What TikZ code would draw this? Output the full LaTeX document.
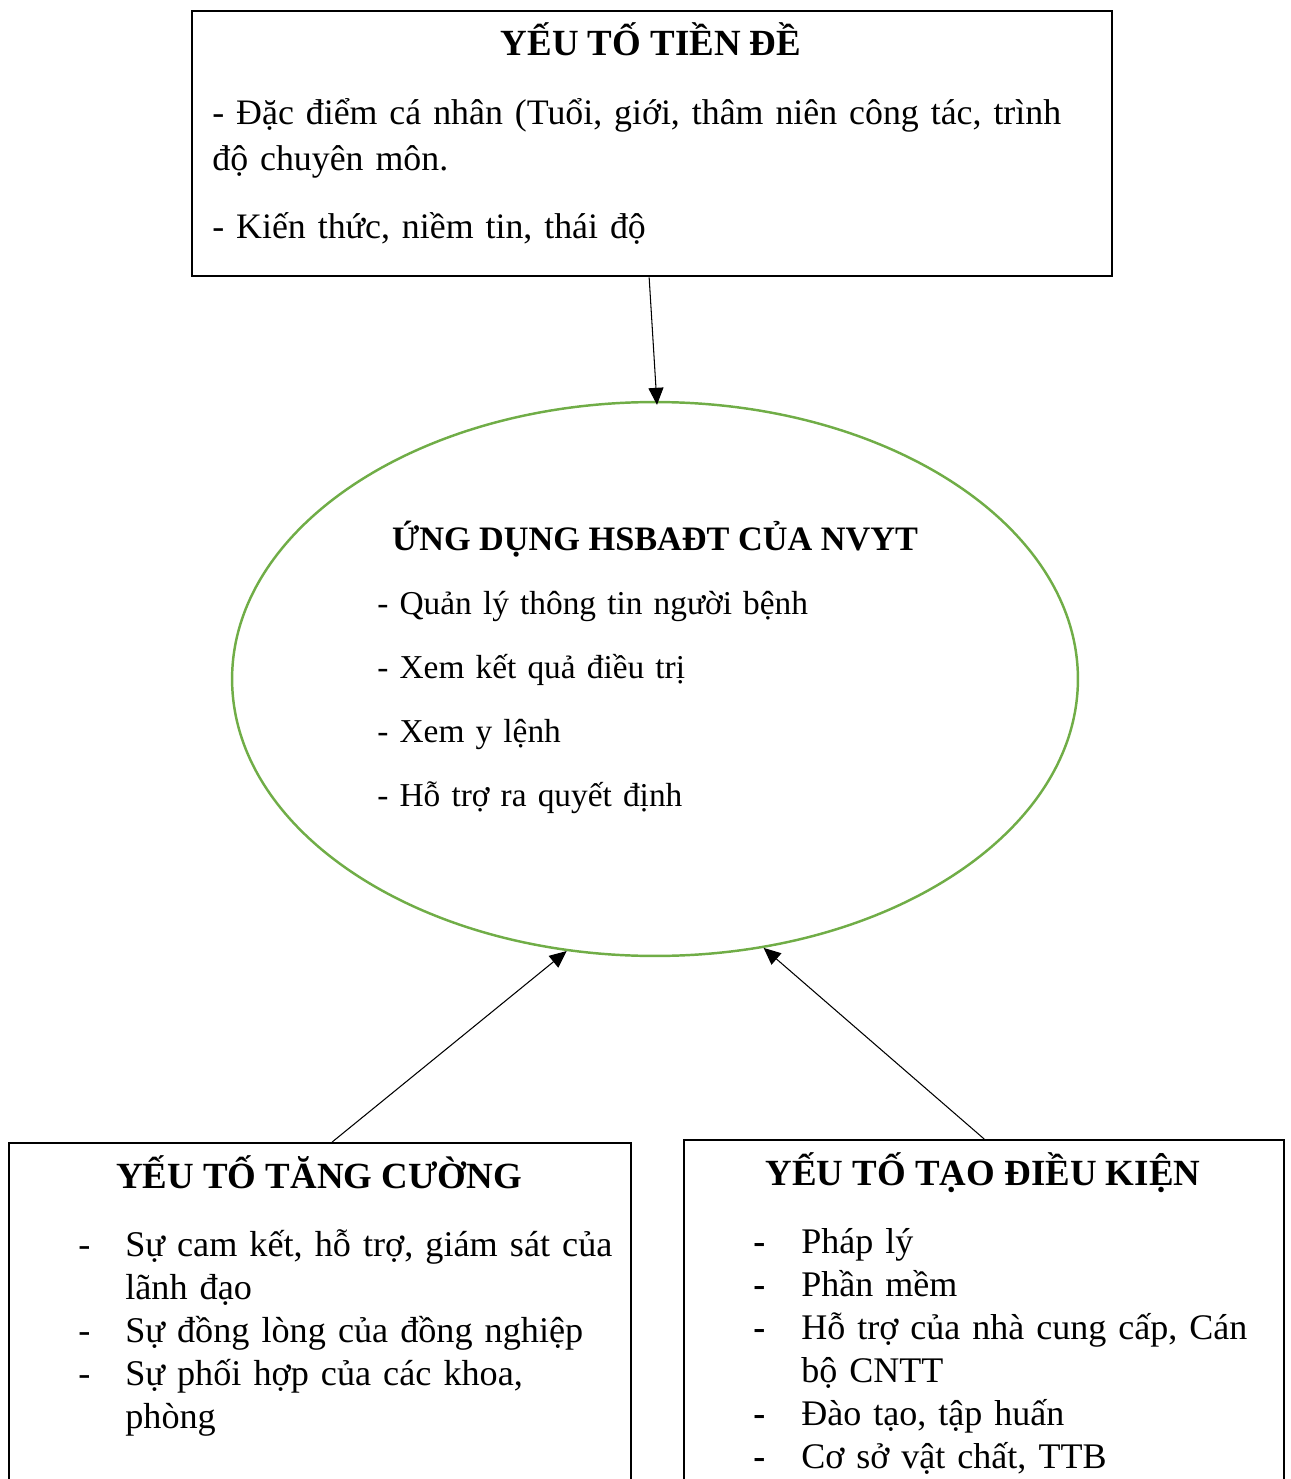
\documentclass[tikz,border=0pt]{standalone}
\usepackage{fontspec}
\setmainfont{Liberation Serif}
\usepackage{xcolor}
\usetikzlibrary{positioning,calc,shapes.geometric,arrows.meta}

\definecolor{leafgreen}{HTML}{70AD47}
\frenchspacing

\begin{document}
\begin{tikzpicture}[x=0.02cm,y=-0.02cm,
    framebox/.style={draw,line width=1.4pt,rectangle,inner sep=0pt,anchor=north west},
    txt/.style={inner sep=0pt,anchor=base west,align=left},
    head/.style={inner sep=0pt,anchor=base,font=\fontsize{21}{25}\selectfont\bfseries},
    arr/.style={-{Triangle[length=0.34cm,width=0.3cm]},line width=0.6pt}]

      \useasboundingbox (0,0) rectangle (1290,1479);
      \clip (0,0) rectangle (1290,1479);

      % top box
      \node[framebox,minimum width=18.4cm,minimum height=5.3cm] (premise) at (191,10) {};
      \node[head] (premisetitle) at (651,56) {YẾU TỐ TIỀN ĐỀ};
      \node[txt,text width=17.6cm,font=\fontsize{20.4}{26.1}\selectfont] (premisetext) at (212,125)
        {- Đặc điểm cá nhân (Tuổi, giới, thâm niên công tác, trình\\
         độ chuyên môn.\\[0.44cm]
         - Kiến thức, niềm tin, thái độ};

      % ellipse
      \node[ellipse,draw=leafgreen,line width=1.4pt,inner sep=0pt,
            minimum width=16.92cm,minimum height=11.08cm] (app) at (655,679) {};
      \node[head,font=\fontsize{19.5}{23}\selectfont\bfseries] (apptitle) at (655,550) {ỨNG DỤNG HSBAĐT CỦA NVYT};
      \node[txt,text width=12cm,font=\fontsize{19}{36.6}\selectfont] (apptext) at (377,614)
        {- Quản lý thông tin người bệnh\\
         - Xem kết quả điều trị\\
         - Xem y lệnh\\
         - Hỗ trợ ra quyết định};

      % bottom left box
      \node[framebox,minimum width=12.44cm,minimum height=8cm] (boost) at (8,1142) {};
      \node[head] (boosttitle) at (319,1188) {YẾU TỐ TĂNG CƯỜNG};
      \node[txt,text width=11.2cm,font=\fontsize{20.6}{24.6}\selectfont] (boosttext) at (78,1256)
        {\makebox[0.94cm][l]{-}Sự cam kết, hỗ trợ, giám sát của\\
         \hspace*{0.94cm}lãnh đạo\\
         \makebox[0.94cm][l]{-}Sự đồng lòng của đồng nghiệp\\
         \makebox[0.94cm][l]{-}Sự phối hợp của các khoa,\\
         \hspace*{0.94cm}phòng};

      % bottom right box
      \node[framebox,minimum width=12cm,minimum height=8cm] (enable) at (683,1139) {};
      \node[head] (enabletitle) at (983,1185) {YẾU TỐ TẠO ĐIỀU KIỆN};
      \node[txt,text width=11.2cm,font=\fontsize{20.5}{24.5}\selectfont] (enabletext) at (753,1253)
        {\makebox[0.96cm][l]{\textbf{-}}Pháp lý\\
         \makebox[0.96cm][l]{\textbf{-}}Phần mềm\\
         \makebox[0.96cm][l]{\textbf{-}}Hỗ trợ của nhà cung cấp, Cán\\
         \hspace*{0.96cm}bộ CNTT\\
         \makebox[0.96cm][l]{\textbf{-}}Đào tạo, tập huấn\\
         \makebox[0.96cm][l]{\textbf{-}}Cơ sở vật chất, TTB};

      % arrows
      \draw[arr] ([xshift=-0.06cm]premise.south) -- ([xshift=0.04cm,yshift=-0.08cm]app.north);
      \draw[arr] ([xshift=0.24cm]boost.north) -- (app.252);
      \draw[arr] (enable.north) -- (app.292);
\end{tikzpicture}
\end{document}
